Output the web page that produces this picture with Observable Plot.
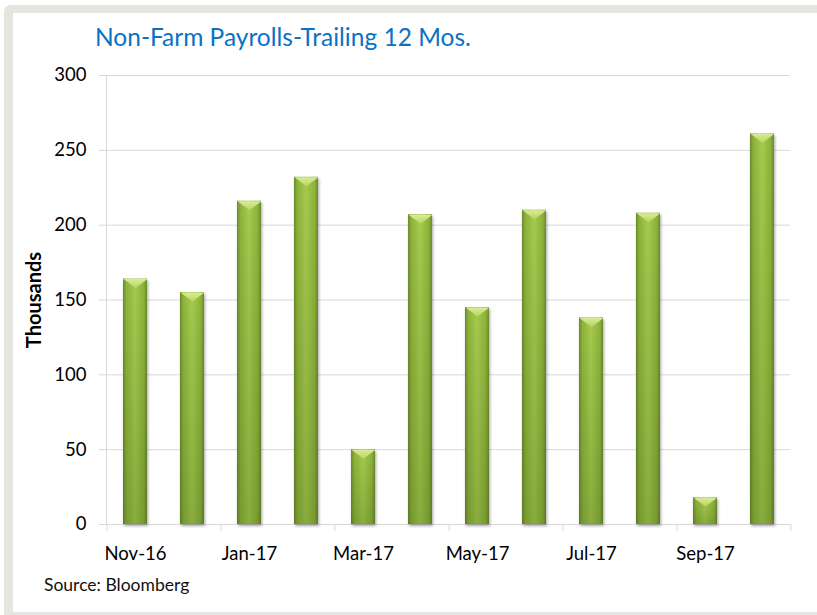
<!DOCTYPE html>
<html>
<head>
<meta charset="utf-8">
<script src="https://cdn.jsdelivr.net/npm/d3@7"></script>
<script src="https://cdn.jsdelivr.net/npm/@observablehq/plot@0.6"></script>
<style>
  html, body { margin: 0; padding: 0; background: #fff; overflow: hidden; }
  #wrap { position: relative; width: 817px; height: 615px; overflow: hidden; background: #fff; font-family: Lato, "Open Sans", sans-serif; }
  .band { position: absolute; background: #e6e5e0; }
  #bandTop { left: 4px; top: 5px; width: 900px; height: 8px; border-top-left-radius: 7px; }
  #bandLeft { left: 4px; top: 5px; width: 9px; height: 700px; border-top-left-radius: 7px; }
  #bandBottom { left: 4px; top: 612px; width: 900px; height: 10px; }
  #chart { position: absolute; left: 0; top: 0; }
  #title { position: absolute; left: 95px; top: 24.5px; font-size: 24.5px; line-height: 24.5px; color: #0a72c4; white-space: nowrap; }
  #source { position: absolute; left: 44px; top: 576px; font-size: 17.5px; line-height: 17.5px; color: #111; white-space: nowrap; }
  #ylabel { position: absolute; left: -67px; top: 290px; width: 200px; text-align: center; font-size: 20px; line-height: 20px; font-weight: bold; color: #000; transform: rotate(-90deg); }
</style>
</head>
<body>
<div id="wrap">
  <div class="band" id="bandTop"></div>
  <div class="band" id="bandLeft"></div>
  <div class="band" id="bandBottom"></div>
  <div id="chart"></div>
  <div id="title">Non-Farm Payrolls-Trailing 12 Mos.</div>
  <div id="ylabel">Thousands</div>
  <div id="source">Source: Bloomberg</div>
</div>
<script>
const months = ["Nov-16","Dec-16","Jan-17","Feb-17","Mar-17","Apr-17","May-17","Jun-17","Jul-17","Aug-17","Sep-17","Oct-17"];
const payrolls = [164, 155, 216, 232, 50, 207, 145, 210, 138, 208, 18, 261];
const yTicks = [0, 50, 100, 150, 200, 250, 300];
const labelMonths = ["Nov-16","Jan-17","Mar-17","May-17","Jul-17","Sep-17"];
const lastMonth = ["Oct-17"];

const data = months.map((m, i) => ({month: m, value: payrolls[i]}));

const bevel = {
  draw(ctx) {
    ctx.moveTo(-12, 0);
    ctx.lineTo(12, 0);
    ctx.lineTo(0, 9);
    ctx.closePath();
  }
};

const plot = Plot.plot({
  width: 817,
  height: 615,
  marginLeft: 106,
  marginRight: 27,
  marginTop: 75,
  marginBottom: 91,
  style: {background: "transparent", fontFamily: "Lato, 'Open Sans', sans-serif", color: "#000"},
  x: {type: "band", domain: months, paddingInner: 0.58, paddingOuter: 0.29, label: null},
  y: {domain: [0, 300], label: null},
  marks: [
    Plot.gridY(yTicks, {stroke: "#d9d9d9", strokeOpacity: 1}),
    Plot.frame({anchor: "left", stroke: "#d9d9d9"}),
    Plot.ruleY([0], {stroke: "#d9d9d9"}),
    Plot.axisY({ticks: yTicks, tickSize: 7, tickPadding: 13, fontSize: 18.5, stroke: "#d9d9d9", fill: "#000", label: null}),
    Plot.axisX({ticks: labelMonths, tickSize: 7, dx: -28.5, stroke: "#d9d9d9", tickFormat: () => "", label: null}),
    Plot.axisX({ticks: lastMonth, tickSize: 7, dx: 28.5, stroke: "#d9d9d9", tickFormat: () => "", label: null}),
    Plot.axisX({ticks: labelMonths, tickSize: 0, tickPadding: 22, fontSize: 18.5, fill: "#000", label: null}),
    Plot.barY(data, {x: "month", y: "value", fill: "url(#barH)"}),
    Plot.barY(data, {x: "month", y: "value", fill: "url(#barV)"}),
    Plot.dot(data, {x: "month", y: "value", symbol: bevel, fill: "url(#tri)", stroke: "none"})
  ]
});

plot.insertAdjacentHTML("afterbegin", `
<defs>
  <linearGradient id="barH" x1="0" y1="0" x2="1" y2="0">
    <stop offset="0" stop-color="#6c8a2b"/>
    <stop offset="0.14" stop-color="#8db33c"/>
    <stop offset="0.5" stop-color="#a5cb4e"/>
    <stop offset="0.86" stop-color="#8db33c"/>
    <stop offset="1" stop-color="#6c8a2b"/>
  </linearGradient>
  <linearGradient id="barV" x1="0" y1="0" x2="0" y2="1">
    <stop offset="0" stop-color="#1e3300" stop-opacity="0"/>
    <stop offset="1" stop-color="#1e3300" stop-opacity="0.2"/>
  </linearGradient>
  <linearGradient id="tri" x1="0" y1="0" x2="0" y2="1">
    <stop offset="0" stop-color="#d8ec98"/>
    <stop offset="1" stop-color="#b6d65e"/>
  </linearGradient>
  <filter id="shadow" x="-30%" y="-10%" width="160%" height="120%">
    <feDropShadow dx="1" dy="2" stdDeviation="1.6" flood-color="#000" flood-opacity="0.35"/>
  </filter>
</defs>`);

const bars = plot.querySelectorAll('g[aria-label="bar"]');
if (bars.length) bars[0].setAttribute("filter", "url(#shadow)");

document.getElementById("chart").appendChild(plot);
</script>
</body>
</html>
